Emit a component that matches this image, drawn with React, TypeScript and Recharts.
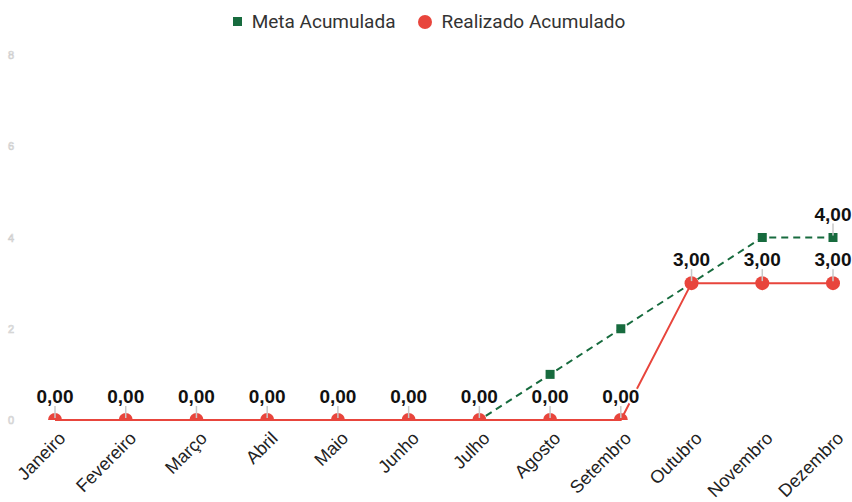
import { LineChart, Line, XAxis, YAxis, Legend, LabelList } from "recharts";

// dados
const meses = [
  "Janeiro", "Fevereiro", "Março", "Abril", "Maio", "Junho",
  "Julho", "Agosto", "Setembro", "Outubro", "Novembro", "Dezembro",
];
const metaAcumulada = [0, 0, 0, 0, 0, 0, 0, 1, 2, 3, 4, 4];
const realizadoAcumulado = [0, 0, 0, 0, 0, 0, 0, 0, 0, 3, 3, 3];
const yTicks = [0, 2, 4, 6, 8];
// só o último ponto da meta tem rótulo visível
const metaComRotulo = [11];

const VERDE = "#176b3e";
const VERMELHO = "#e8453c";
const FONTE = "'Liberation Sans', Arial, sans-serif";

const data = meses.map((mes, i) => ({
  mes,
  meta: metaAcumulada[i],
  realizado: realizadoAcumulado[i],
}));

const fmt = (v: number) => v.toFixed(2).replace(".", ",");

// rótulo com linha guia e contorno branco
function Rotulo(props: any) {
  const { x, y, value } = props;
  if (x == null || y == null) return null;
  return (
    <g>
      <line x1={x} y1={y - 2} x2={x} y2={y - 14} stroke="#c8c8c8" strokeWidth={1.5} />
      <text
        x={x}
        y={y - 17}
        textAnchor="middle"
        fontFamily={FONTE}
        fontWeight="bold"
        fontSize={19}
        fill="#111"
        stroke="#fff"
        strokeWidth={4}
        strokeLinejoin="round"
        paintOrder="stroke"
      >
        {fmt(Number(value))}
      </text>
    </g>
  );
}

function RotuloMeta(props: any) {
  if (!metaComRotulo.includes(props.index)) return null;
  return <Rotulo {...props} />;
}

function TickX(props: any) {
  const { x, y, payload } = props;
  return (
    <g transform={`translate(${x + 8},${y + 8})`}>
      <text
        textAnchor="end"
        transform="rotate(-45)"
        fontFamily={FONTE}
        fontSize={18}
        fill="#222"
        dy={5}
      >
        {payload.value}
      </text>
    </g>
  );
}

function TickY(props: any) {
  const { y, payload } = props;
  return (
    <text
      x={8}
      y={y}
      dy={4}
      fontFamily={FONTE}
      fontSize={11}
      fill="#fff"
      stroke="#cfcfcf"
      strokeWidth={0.7}
    >
      {payload.value}
    </text>
  );
}

function Legenda() {
  const item = { display: "flex", alignItems: "center", gap: 10 } as const;
  return (
    <div
      style={{
        display: "flex",
        justifyContent: "center",
        gap: 22,
        fontFamily: "Roboto, sans-serif",
        fontSize: 19,
        color: "#333",
        height: 40,
        alignItems: "flex-start",
        paddingLeft: 10,
      }}
    >
      <div style={item}>
        <span style={{ width: 9, height: 9, background: VERDE, display: "inline-block" }} />
        Meta Acumulada
      </div>
      <div style={item}>
        <span
          style={{ width: 14, height: 14, borderRadius: "50%", background: VERMELHO, display: "inline-block" }}
        />
        Realizado Acumulado
      </div>
    </div>
  );
}

// marcadores no valor zero ficam cortados pela borda inferior da área do gráfico
function Quadrado(props: any) {
  const { cx, cy, value } = props;
  if (cx == null || cy == null) return null;
  const h = value === 0 ? 4.5 : 9;
  return <rect x={cx - 4.5} y={cy - 4.5} width={9} height={h} fill={VERDE} />;
}

function Circulo(props: any) {
  const { cx, cy, value } = props;
  if (cx == null || cy == null) return null;
  const r = 7;
  if (value === 0) {
    return (
      <path
        d={`M${cx - r},${cy} A${r},${r} 0 0 1 ${cx + r},${cy} Z`}
        fill={VERMELHO}
      />
    );
  }
  return <circle cx={cx} cy={cy} r={r} fill={VERMELHO} />;
}

export default function App() {
  return (
    <div style={{ width: 852, height: 502 }}>
      <style>{`body{margin:0}`}</style>
      <LineChart
        width={852}
        height={502}
        data={data}
        margin={{ top: 10, right: 4, bottom: 0, left: 0 }}
      >
        <Legend verticalAlign="top" height={45} content={<Legenda />} />
        <XAxis
          dataKey="mes"
          padding={{ left: 20, right: 15 }}
          axisLine={false}
          tickLine={false}
          tick={<TickX />}
          height={82}
          interval={0}
        />
        <YAxis
          domain={[0, 8]}
          ticks={yTicks}
          axisLine={false}
          tickLine={false}
          tick={<TickY />}
          width={35}
        />
        <Line
          dataKey="meta"
          name="Meta Acumulada"
          stroke={VERDE}
          strokeWidth={2}
          strokeDasharray="7 5"
          dot={<Quadrado />}
          activeDot={false}
          isAnimationActive={false}
        >
          <LabelList dataKey="meta" content={<RotuloMeta />} />
        </Line>
        <Line
          dataKey="realizado"
          name="Realizado Acumulado"
          stroke={VERMELHO}
          strokeWidth={2}
          dot={<Circulo />}
          activeDot={false}
          isAnimationActive={false}
        >
          <LabelList dataKey="realizado" content={<Rotulo />} />
        </Line>
      </LineChart>
    </div>
  );
}
